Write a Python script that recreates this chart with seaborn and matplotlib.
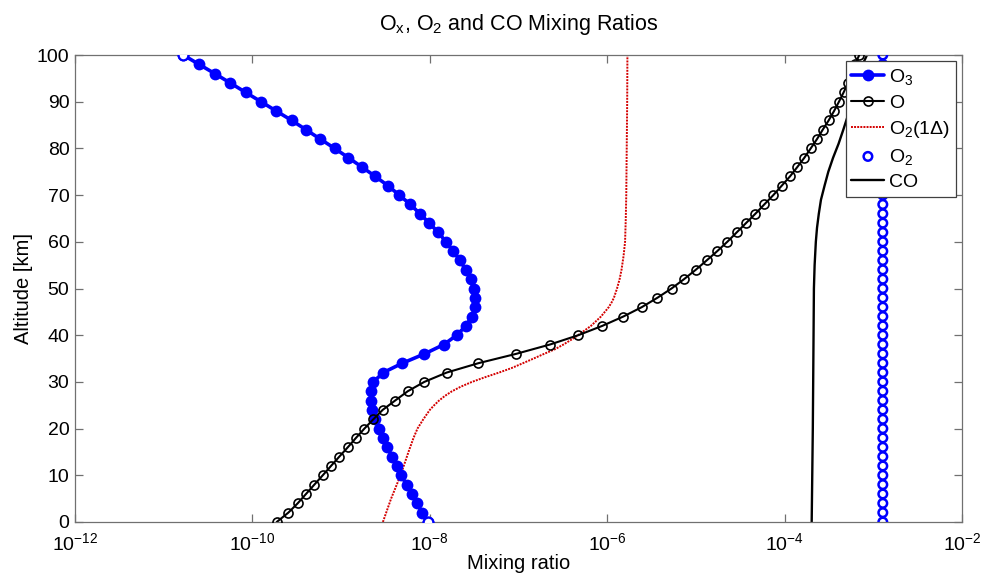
import matplotlib
matplotlib.use("Agg")
import matplotlib.pyplot as plt
import seaborn as sns
import pandas as pd
from matplotlib.ticker import FixedLocator

# ---------------- data ----------------
alt_2km = [0, 2, 4, 6, 8, 10, 12, 14, 16, 18, 20, 22, 24, 26, 28, 30, 32, 34, 36, 38,
           40, 42, 44, 46, 48, 50, 52, 54, 56, 58, 60, 62, 64, 66, 68, 70, 72, 74, 76, 78,
           80, 82, 84, 86, 88, 90, 92, 94, 96, 98, 100]

o3 = [9.62e-9, 8.22e-9, 7.11e-9, 6.25e-9, 5.50e-9, 4.73e-9, 4.24e-9, 3.75e-9, 3.32e-9, 2.96e-9,
      2.67e-9, 2.39e-9, 2.25e-9, 2.16e-9, 2.16e-9, 2.31e-9, 2.99e-9, 4.90e-9, 8.71e-9, 1.44e-8,
      2.01e-8, 2.55e-8, 2.99e-8, 3.26e-8, 3.26e-8, 3.13e-8, 2.89e-8, 2.54e-8, 2.19e-8, 1.84e-8,
      1.52e-8, 1.25e-8, 9.86e-9, 7.76e-9, 6.03e-9, 4.53e-9, 3.38e-9, 2.43e-9, 1.72e-9, 1.21e-9,
      8.47e-10, 5.82e-10, 4.02e-10, 2.77e-10, 1.86e-10, 1.25e-10, 8.39e-11, 5.64e-11, 3.78e-11, 2.50e-11,
      1.66e-11]

o_atom = [1.88e-10, 2.54e-10, 3.24e-10, 4.02e-10, 4.99e-10, 6.21e-10, 7.69e-10, 9.55e-10, 1.19e-9, 1.47e-9,
          1.83e-9, 2.31e-9, 2.94e-9, 4.06e-9, 5.64e-9, 8.67e-9, 1.55e-8, 3.52e-8, 9.38e-8, 2.26e-7,
          4.72e-7, 8.81e-7, 1.52e-6, 2.45e-6, 3.67e-6, 5.31e-6, 7.35e-6, 9.95e-6, 1.32e-5, 1.74e-5,
          2.26e-5, 2.88e-5, 3.67e-5, 4.68e-5, 5.90e-5, 7.46e-5, 9.27e-5, 1.15e-4, 1.39e-4, 1.67e-4,
          1.97e-4, 2.32e-4, 2.69e-4, 3.14e-4, 3.61e-4, 4.10e-4, 4.63e-4, 5.19e-4, 5.65e-4, 6.22e-4,
          6.95e-4]

o2 = [1.28e-3, 1.28e-3, 1.28e-3, 1.28e-3, 1.28e-3, 1.28e-3, 1.28e-3, 1.28e-3, 1.28e-3, 1.28e-3,
      1.28e-3, 1.28e-3, 1.28e-3, 1.28e-3, 1.28e-3, 1.28e-3, 1.28e-3, 1.28e-3, 1.28e-3, 1.28e-3,
      1.28e-3, 1.28e-3, 1.28e-3, 1.28e-3, 1.28e-3, 1.28e-3, 1.28e-3, 1.28e-3, 1.28e-3, 1.28e-3,
      1.28e-3, 1.28e-3, 1.28e-3, 1.28e-3, 1.28e-3, 1.28e-3, 1.28e-3, 1.28e-3, 1.28e-3, 1.28e-3,
      1.28e-3, 1.28e-3, 1.28e-3, 1.28e-3, 1.28e-3, 1.28e-3, 1.28e-3, 1.28e-3, 1.28e-3, 1.28e-3,
      1.28e-3]

alt_o2d = [0, 5, 10, 15, 18, 20, 22, 24, 25, 26, 27, 28, 29, 30, 31, 32, 33, 34, 35, 36, 37,
           38, 39, 40, 41, 42, 43, 44, 46, 47, 48, 50, 52, 54, 57, 60, 65, 70, 80, 90, 100]
o2_delta = [2.96e-9, 3.66e-9, 4.68e-9, 5.75e-9, 6.55e-9, 7.26e-9, 8.45e-9, 1.00e-8, 1.12e-8, 1.27e-8, 1.48e-8,
            1.78e-8, 2.25e-8, 2.99e-8, 4.19e-8, 6.03e-8, 8.45e-8, 1.12e-7, 1.48e-7, 1.94e-7, 2.58e-7,
            3.21e-7, 3.91e-7, 4.69e-7, 5.55e-7, 6.56e-7, 7.48e-7, 8.51e-7, 1.04e-6, 1.12e-6, 1.19e-6,
            1.29e-6, 1.38e-6, 1.45e-6, 1.53e-6, 1.59e-6, 1.62e-6, 1.64e-6, 1.66e-6, 1.68e-6, 1.69e-6]

alt_co = [0, 10, 20, 30, 40, 50, 55, 60, 63, 66, 69, 72, 75, 78, 81, 84, 87, 90, 94, 97, 100]
co = [2.02e-4, 2.05e-4, 2.08e-4, 2.10e-4, 2.12e-4, 2.14e-4, 2.18e-4, 2.25e-4, 2.32e-4, 2.43e-4,
      2.57e-4, 2.82e-4, 3.11e-4, 3.52e-4, 4.06e-4, 4.59e-4, 5.16e-4, 5.68e-4, 6.30e-4, 7.18e-4,
      8.49e-4]

# ---------------- style ----------------
sns.set_style("ticks")
plt.rcParams["font.family"] = ["Liberation Sans", "DejaVu Sans"]
plt.rcParams["mathtext.fontset"] = "custom"
plt.rcParams["mathtext.rm"] = "Liberation Sans"
plt.rcParams["mathtext.it"] = "Liberation Sans:italic"
plt.rcParams["mathtext.sf"] = "Liberation Sans"
plt.rcParams["mathtext.default"] = "regular"
plt.rcParams["axes.unicode_minus"] = False
plt.rcParams["text.color"] = "black"
plt.rcParams["axes.labelcolor"] = "black"

fig = plt.figure(figsize=(9.82, 5.77), dpi=100)
ax = fig.add_axes([75 / 982, 1 - 522 / 577, (962 - 75) / 982, (522 - 55) / 577])

df_o3 = pd.DataFrame({"x": o3, "alt": alt_2km})
df_o = pd.DataFrame({"x": o_atom, "alt": alt_2km})
df_o2 = pd.DataFrame({"x": o2, "alt": alt_2km})
df_o2d = pd.DataFrame({"x": o2_delta, "alt": alt_o2d})
df_co = pd.DataFrame({"x": co, "alt": alt_co})

sns.lineplot(data=df_o3, x="x", y="alt", sort=False, estimator=None, ax=ax,
             color="#0000ff", lw=2.6, marker="o", markersize=8.5, markeredgewidth=0,
             label="O$_3$", zorder=3)
# end points drawn as open circles
ends = df_o3.iloc[[0, len(df_o3) - 1]]
ax.plot(ends["x"], ends["alt"], ls="none", marker="o", ms=7, mfc="white",
        mec="#0000ff", mew=1.6, zorder=4)

sns.lineplot(data=df_o, x="x", y="alt", sort=False, estimator=None, ax=ax,
             color="black", lw=1.5, marker="o", markersize=6.5, mfc="none",
             mec="black", mew=1.2, label="O", zorder=3)

sns.lineplot(data=df_o2d, x="x", y="alt", sort=False, estimator=None, ax=ax,
             color="#d40000", lw=1.4, ls=(0, (1, 0.6)), label="O$_2$(1Δ)", zorder=2)

sns.scatterplot(data=df_o2, x="x", y="alt", ax=ax, marker="o", s=38,
                facecolor="none", edgecolor="#0000ff", linewidth=1.8,
                label="O$_2$", zorder=3)

sns.lineplot(data=df_co, x="x", y="alt", sort=False, estimator=None, ax=ax,
             color="black", lw=1.7, label="CO", zorder=2)

ax.set_xscale("log")
ax.set_xlim(1e-12, 1e-2)
ax.set_ylim(0, 100)
ax.xaxis.set_major_locator(FixedLocator([1e-12, 1e-10, 1e-8, 1e-6, 1e-4, 1e-2]))
ax.xaxis.set_minor_locator(FixedLocator([]))
ax.set_yticks(range(0, 101, 10))

for s in ax.spines.values():
    s.set_color("#707070")
    s.set_linewidth(0.9)
ax.tick_params(direction="in", length=6, width=0.9, color="#707070",
               top=True, right=True, labelsize=14, labelcolor="black")
ax.tick_params(axis="x", pad=7)
ax.tick_params(axis="y", pad=4)

ax.set_xlabel("Mixing ratio", fontsize=14.5, labelpad=0)
ax.set_ylabel("Altitude [km]", fontsize=14.5, labelpad=3)
ax.set_title("O$_x$, O$_2$ and CO Mixing Ratios", fontsize=15.5, pad=18, color="black")

leg = ax.legend(loc="upper right", bbox_to_anchor=(0.9935, 0.987), fontsize=14,
                frameon=True, fancybox=False, framealpha=1, edgecolor="#404040",
                borderpad=0.3, labelspacing=0.36, handlelength=1.7, handletextpad=0.25,
                borderaxespad=0)
leg.get_frame().set_linewidth(0.9)
for t in leg.get_texts():
    t.set_color("black")

fig.savefig("out.png", dpi=100)
